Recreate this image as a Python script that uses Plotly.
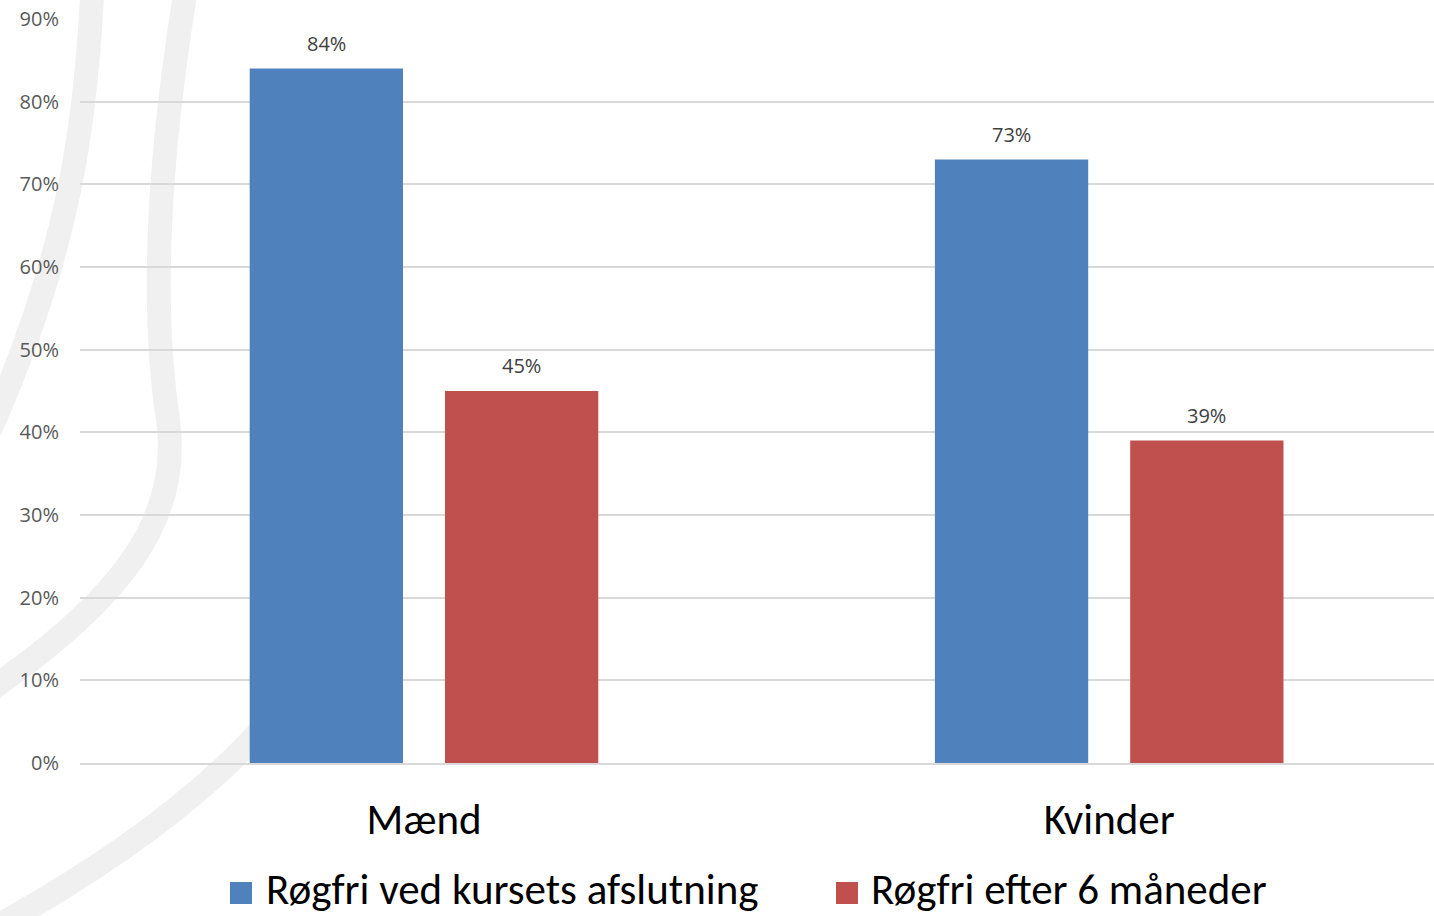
import plotly.graph_objects as go

categories = ["Mænd", "Kvinder"]
series_names = ["Røgfri ved kursets afslutning", "Røgfri efter 6 måneder"]
at_end = [0.84, 0.73]
after_6m = [0.45, 0.39]
colors = ["#4F81BD", "#C0504D"]
series_values = [at_end, after_6m]

W, H = 1434, 916
L, R, T, B = 80, 1434, 19, 763


def px(x):
    return (x - L) / (R - L)


def py(y):
    return (B - y) / (B - T)


fig = go.Figure()
for name, vals, col in zip(series_names, series_values, colors):
    fig.add_trace(go.Bar(x=categories, y=vals, name=name, marker_color=col,
                         marker_line_width=0, showlegend=False))

# data labels
slot = 685 * (1 - 0.43) / 2
annotations = []
for i, vals in enumerate(series_values):
    for c, v in zip(categories, vals):
        annotations.append(dict(x=c, y=v, xref="x", yref="y", text=f"{round(v*100)}%",
                                showarrow=False, yanchor="bottom", yshift=10,
                                xshift=(i - 0.5) * slot,
                                font=dict(family="Open Sans", size=20, color="#404040")))

# manual legend
leg_marker_x = [230, 836]
leg_text_x = [265, 870]
shapes = []
for name, col, mx, tx in zip(series_names, colors, leg_marker_x, leg_text_x):
    shapes.append(dict(type="rect", xref="paper", yref="paper",
                       x0=px(mx), x1=px(mx + 22), y0=py(904), y1=py(882),
                       fillcolor=col, line_width=0))
    annotations.append(dict(x=px(tx), y=py(889), xref="paper", yref="paper", text=name,
                            showarrow=False, xanchor="left", yanchor="middle", borderpad=0,
                            font=dict(family="Carlito, Calibri, Lato", size=43, color="#000000")))


def path(points):
    s = "M {},{}".format(px(points[0][0]), py(points[0][1]))
    for k in range(1, len(points), 3):
        seg = points[k:k + 3]
        s += " C " + " ".join("{},{}".format(px(a), py(b)) for a, b in seg)
    return s


wm = [
    [(92, -5), (86, 120), (70, 250), (-10, 430)],
    [(185, -5), (160, 150), (150, 300), (168, 420), (182, 520), (120, 600), (-10, 690)],
    [(-10, 930), (100, 870), (200, 800), (270, 720)],
]
for pts in wm:
    shapes.append(dict(type="path", xref="paper", yref="paper", path=path(pts),
                       line=dict(color="#f0f0f0", width=24), layer="below"))

fig.update_layout(
    width=W, height=H,
    margin=dict(l=L, r=W - R, t=T, b=H - B),
    paper_bgcolor="white", plot_bgcolor="rgba(0,0,0,0)",
    barmode="group", bargap=0.43, bargroupgap=0.215,
    annotations=annotations, shapes=shapes,
    showlegend=False,
)
fig.update_yaxes(range=[0, 0.9], dtick=0.1, tickformat=".0%", showgrid=True,
                 gridcolor="#d9d9d9", gridwidth=1.5, zeroline=False, showline=False,
                 ticks="", ticklabelstandoff=20,
                 tickfont=dict(family="Open Sans", size=20, color="#595959"))
fig.update_xaxes(range=[-0.502, 1.474], showgrid=False, showline=True, linecolor="#d9d9d9",
                 linewidth=1.5, ticks="", ticklabelstandoff=18,
                 tickfont=dict(family="Carlito, Calibri, Lato", size=43, color="#000000"))

fig.write_html("out.html", config={"displayModeBar": False},
               post_script="document.body.style.margin='0';document.body.style.overflow='hidden';")
